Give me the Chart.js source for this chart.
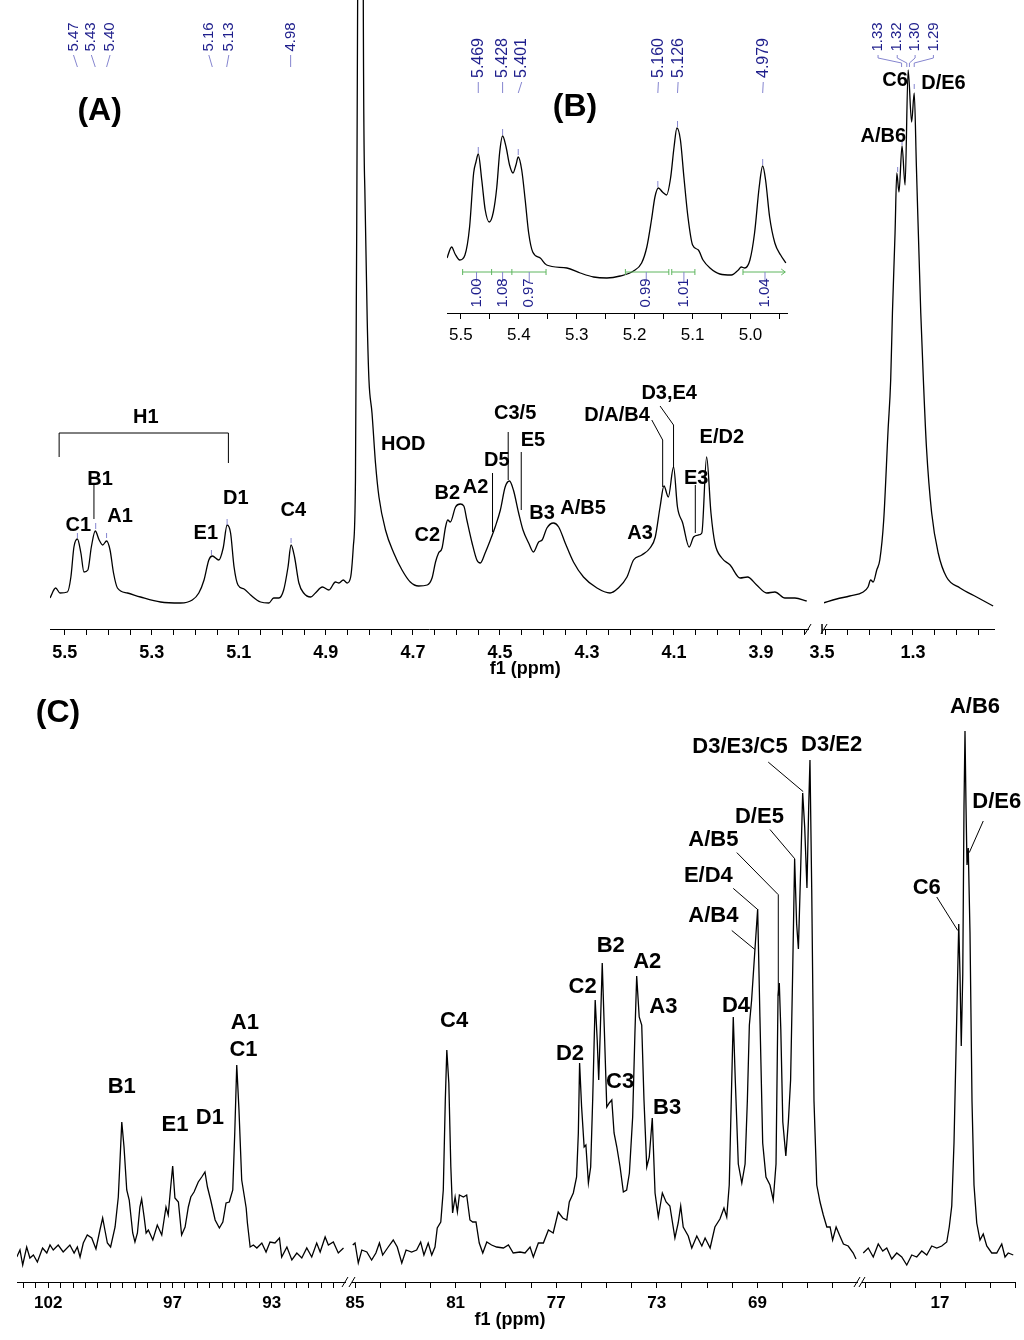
<!DOCTYPE html>
<html lang="en">
<head>
<meta charset="UTF-8">
<title>1H / 13C NMR spectra</title>
<script src="https://cdn.jsdelivr.net/npm/chart.js"></script>
<style>
  body { margin: 0; background: #fff; }
  #page { position: relative; width: 1024px; height: 1340px; overflow: hidden; background: #fff; }
  #page canvas { position: absolute; }
</style>
</head>
<body>
<div id="page"></div>
<script>
// ---- 1H spectrum, 5.53 - 3.79 ppm (panel A, left part)
const protonMainPpm = [5.534, 5.521, 5.511, 5.494, 5.486, 5.479, 5.471, 5.463, 5.456, 5.447,
  5.439, 5.430, 5.421, 5.413, 5.404, 5.396, 5.388, 5.379, 5.356, 5.326,
  5.280, 5.234, 5.207, 5.192, 5.180, 5.169, 5.161, 5.146, 5.136, 5.127,
  5.119, 5.111, 5.102, 5.088, 5.073, 5.050, 5.031, 5.020, 5.008, 4.997,
  4.987, 4.980, 4.972, 4.962, 4.951, 4.935, 4.924, 4.908, 4.893, 4.878,
  4.870, 4.860, 4.851, 4.843, 4.837, 4.832, 4.830, 4.827, 4.820, 4.814,
  4.810, 4.805, 4.801, 4.794, 4.786, 4.778, 4.763, 4.744, 4.725, 4.706,
  4.687, 4.667, 4.656, 4.648, 4.641, 4.633, 4.625, 4.620, 4.614, 4.602,
  4.591, 4.583, 4.576, 4.564, 4.553, 4.545, 4.534, 4.522, 4.511, 4.499,
  4.488, 4.478, 4.469, 4.457, 4.447, 4.434, 4.423, 4.411, 4.403, 4.392,
  4.377, 4.365, 4.350, 4.331, 4.308, 4.277, 4.247, 4.228, 4.208, 4.193,
  4.174, 4.155, 4.143, 4.132, 4.123, 4.113, 4.101, 4.092, 4.080, 4.065,
  4.055, 4.044, 4.036, 4.025, 4.015, 4.006, 3.990, 3.971, 3.948, 3.931,
  3.910, 3.887, 3.868, 3.845, 3.822, 3.795];
const protonMainInt = [31, 41, 36, 37, 52, 82, 90, 76, 57, 59,
  82, 98, 89, 84, 88, 79, 56, 41, 36, 32,
  27, 26, 29, 36, 49, 69, 73, 69, 81, 104,
  96, 62, 44, 40, 34, 27, 26, 31, 31, 39,
  62, 84, 72, 46, 36, 32, 36, 42, 39, 47,
  46, 49, 46, 52, 82, 149, 329, 629, 2500, 629,
  429, 309, 249, 216, 166, 132, 99, 76, 59, 47,
  43, 44, 51, 67, 76, 81, 102, 109, 107, 122,
  125, 123, 109, 86, 69, 66, 76, 89, 102, 119,
  142, 148, 139, 116, 99, 86, 77, 87, 89, 101,
  106, 102, 86, 67, 52, 41, 36, 41, 52, 69,
  74, 81, 92, 122, 143, 132, 162, 122, 106, 82,
  92, 94, 96, 172, 116, 86, 71, 64, 51, 52,
  44, 36, 37, 31, 31, 28];

// ---- 1H, the small piece kept around 3.5 ppm
const protonGapPpm = [3.507, 3.501];
const protonGapInt = [21, 21];

// ---- 1H methyl region (panel A, right part)
const protonMethylPpm = [1.506, 1.475, 1.445, 1.414, 1.403, 1.397, 1.391, 1.383, 1.376, 1.367,
  1.357, 1.351, 1.347, 1.341, 1.337, 1.332, 1.325, 1.318, 1.311, 1.303,
  1.297, 1.292, 1.282, 1.276, 1.269, 1.257, 1.242, 1.223, 1.192, 1.154, 1.116];
const protonMethylInt = [26, 30, 33, 37, 42, 49, 47, 59, 69, 109,
  199, 249, 316, 396, 456, 437, 483, 444, 559, 507,
  536, 462, 316, 249, 182, 116, 76, 52, 41, 32, 23];

// ---- inset (B): anomeric protons
const insetPpm = [5.524, 5.516, 5.510, 5.502, 5.493, 5.485, 5.478, 5.474, 5.470, 5.464,
  5.458, 5.451, 5.444, 5.438, 5.433, 5.428, 5.422, 5.416, 5.410, 5.405,
  5.401, 5.395, 5.389, 5.383, 5.376, 5.363, 5.352, 5.317, 5.294, 5.271,
  5.248, 5.225, 5.202, 5.188, 5.179, 5.171, 5.165, 5.159, 5.152, 5.145,
  5.138, 5.132, 5.127, 5.121, 5.115, 5.108, 5.100, 5.090, 5.082, 5.070,
  5.053, 5.033, 5.021, 5.016, 5.010, 5.001, 4.993, 4.985, 4.979, 4.974,
  4.967, 4.958, 4.948, 4.939];
const insetInt = [55, 66, 59, 53, 58, 86, 140, 151, 159, 133,
  103, 91, 101, 126, 161, 177, 166, 148, 140, 148,
  156, 143, 113, 80, 61, 55, 48, 45, 40, 36,
  35, 37, 42, 50, 66, 93, 116, 125, 121, 118,
  135, 166, 185, 173, 136, 96, 68, 63, 53, 45,
  39, 38, 43, 46, 45, 53, 80, 126, 147, 133,
  96, 70, 58, 50];
const insetShifts = ['5.469', '5.428', '5.401', '5.160', '5.126', '4.979'];
const insetIntegrals = ['1.00', '1.08', '0.97', '0.99', '1.01', '1.04'];

// ---- 13C spectrum (panel C) in three pieces
const carbonAnomPpm = [103.27, 103.14, 103.03, 102.87, 102.74, 102.60, 102.44, 102.23, 102.06, 101.93,
  101.80, 101.60, 101.40, 101.13, 100.96, 100.83, 100.72, 100.59, 100.43, 100.25,
  100.08, 99.92, 99.81, 99.72, 99.62, 99.49, 99.31, 99.18, 99.11, 99.04,
  98.95, 98.84, 98.74, 98.60, 98.51, 98.41, 98.31, 98.24, 98.14, 98.06,
  97.97, 97.79, 97.61, 97.43, 97.26, 97.17, 97.07, 96.99, 96.90, 96.76,
  96.63, 96.49, 96.36, 96.26, 96.13, 95.96, 95.82, 95.69, 95.59, 95.46,
  95.28, 95.11, 94.97, 94.84, 94.71, 94.57, 94.49, 94.41, 94.32, 94.21,
  94.10, 94.03, 93.98, 93.87, 93.74, 93.60, 93.40, 93.23, 93.07, 92.87,
  92.69, 92.60, 92.39, 92.19, 91.99, 91.79, 91.59, 91.39, 91.19, 91.05,
  90.85, 90.72, 90.52, 90.32, 90.11];
const carbonAnomInt = [25, 32, 17, 35, 24, 27, 20, 34, 29, 37,
  32, 37, 30, 37, 29, 35, 25, 39, 47, 44,
  33, 52, 64, 52, 39, 35, 55, 85, 122, 160,
  135, 92, 82, 49, 40, 49, 75, 83, 65, 49,
  52, 42, 57, 47, 75, 67, 95, 116, 84, 80,
  47, 55, 75, 85, 90, 100, 105, 110, 95, 82,
  62, 54, 60, 79, 80, 92, 149, 217, 172, 102,
  85, 74, 59, 35, 37, 34, 39, 30, 40, 39,
  44, 25, 35, 22, 29, 24, 34, 25, 39, 30,
  45, 37, 40, 29, 34];
const carbonRingPpm = [85.09, 85.00, 84.87, 84.73, 84.53, 84.34, 84.17, 84.03, 83.90, 83.68,
  83.48, 83.32, 83.14, 82.97, 82.75, 82.55, 82.39, 82.26, 82.09, 81.95,
  81.82, 81.73, 81.59, 81.49, 81.41, 81.35, 81.27, 81.19, 81.12, 81.02,
  80.93, 80.85, 80.69, 80.56, 80.43, 80.32, 80.19, 80.06, 79.92, 79.76,
  79.57, 79.37, 79.10, 78.90, 78.71, 78.44, 78.24, 78.04, 77.91, 77.71,
  77.51, 77.31, 77.12, 76.92, 76.74, 76.58, 76.48, 76.32, 76.19, 76.12,
  76.07, 75.99, 75.89, 75.82, 75.72, 75.63, 75.55, 75.45, 75.37, 75.31,
  75.25, 75.17, 75.09, 74.99, 74.89, 74.79, 74.70, 74.59, 74.46, 74.33,
  74.20, 74.09, 73.96, 73.87, 73.80, 73.70, 73.60, 73.51, 73.40, 73.30,
  73.18, 73.07, 72.94, 72.78, 72.63, 72.48, 72.28, 72.15, 72.05, 71.95,
  71.75, 71.61, 71.41, 71.21, 71.08, 70.88, 70.69, 70.49, 70.33, 70.22,
  70.12, 70.04, 69.96, 69.88, 69.76, 69.62, 69.49, 69.40, 69.32, 69.23,
  69.11, 68.99, 68.90, 68.79, 68.66, 68.50, 68.37, 68.26, 68.18, 68.13,
  68.07, 67.99, 67.87, 67.77, 67.68, 67.60, 67.52, 67.44, 67.37, 67.28,
  67.20, 67.12, 67.03, 66.96, 66.91, 66.84, 66.75, 66.64, 66.51, 66.38,
  66.24, 66.11, 66.01, 65.87, 65.72, 65.58, 65.39, 65.19, 65.08];
const carbonRingInt = [37, 39, 19, 32, 30, 22, 29, 39, 27, 35,
  42, 35, 19, 32, 30, 32, 40, 27, 39, 27,
  35, 54, 60, 92, 182, 232, 199, 115, 69, 85,
  70, 87, 85, 87, 62, 60, 60, 39, 29, 40,
  37, 35, 34, 37, 29, 30, 29, 35, 25, 39,
  39, 52, 49, 70, 64, 62, 80, 89, 105, 149,
  219, 175, 135, 137, 99, 115, 182, 282, 242, 202,
  249, 319, 255, 175, 179, 182, 149, 135, 115, 90,
  92, 109, 165, 249, 306, 265, 257, 182, 115, 125,
  164, 89, 65, 89, 80, 76, 44, 59, 76, 55,
  46, 34, 46, 36, 44, 34, 55, 63, 74, 65,
  97, 181, 265, 202, 118, 99, 118, 181, 257, 282,
  328, 373, 265, 139, 105, 97, 82, 118, 286, 299,
  253, 160, 126, 160, 202, 307, 423, 358, 333, 413,
  489, 455, 394, 476, 522, 392, 181, 97, 80, 67,
  55, 55, 42, 55, 46, 38, 36, 29, 23];
const carbonMethylPpm = [20.07, 19.87, 19.67, 19.47, 19.29, 19.13, 18.93, 18.73, 18.53, 18.33,
  18.13, 17.93, 17.73, 17.53, 17.33, 17.13, 16.93, 16.73, 16.63, 16.53,
  16.44, 16.33, 16.25, 16.20, 16.15, 16.09, 16.04, 16.00, 15.96, 15.92,
  15.87, 15.80, 15.72, 15.64, 15.53, 15.40, 15.27, 15.13, 14.93, 14.73,
  14.53, 14.40, 14.27, 14.07];
const carbonMethylInt = [29, 34, 25, 38, 31, 34, 23, 29, 25, 17,
  27, 25, 31, 27, 36, 34, 36, 40, 55, 76,
  139, 265, 358, 307, 236, 307, 476, 551, 476, 417,
  434, 349, 181, 97, 59, 42, 48, 36, 29, 29,
  38, 25, 29, 27];

// tick labels shown on each axis piece
const protonTickLabels = [5.5, 5.3, 5.1, 4.9, 4.7, 4.5, 4.3, 4.1, 3.9];
const protonGapLabels = [3.5];
const protonMethylLabels = [1.3];
const insetTickLabels = [5.5, 5.4, 5.3, 5.2, 5.1, 5.0];
const carbonAnomLabels = [102, 97, 93];
const carbonRingLabels = [85, 81, 77, 73, 69, 65];
const carbonMethylLabels = [17];

const FONT = '"Liberation Sans", Arial, sans-serif';
const STYLES = {
  panel: { font: 'bold 32px ' + FONT, color: '#000' },
  lab:   { font: 'bold 20px ' + FONT, color: '#000' },
  labC:  { font: 'bold 22px ' + FONT, color: '#000' },
  title: { font: 'bold 18px ' + FONT, color: '#000' },
  peak:  { font: '15px ' + FONT, color: '#1e1e8c', rot: true },
  peakB: { font: '16px ' + FONT, color: '#1e1e8c', rot: true }
};
const BLUE = '#8585cf', GREEN = '#5fb65f';

// labels, leader lines, break marks (in ppm / intensity units)
const notesA1 = {
  texts: [
    { x: 5.420, y: 518, t: '(A)', s: 'panel' },
    { x: 5.314, y: 212, t: 'H1' },
    { x: 5.419, y: 150, t: 'B1' }, { x: 5.469, y: 104, t: 'C1' }, { x: 5.373, y: 113, t: 'A1' },
    { x: 5.176, y: 96, t: 'E1' }, { x: 5.107, y: 131, t: 'D1' }, { x: 4.975, y: 119, t: 'C4' },
    { x: 4.722, y: 185, t: 'HOD' }, { x: 4.667, y: 94, t: 'C2' }, { x: 4.621, y: 136, t: 'B2' },
    { x: 4.556, y: 142, t: 'A2' }, { x: 4.507, y: 169, t: 'D5' }, { x: 4.465, y: 216, t: 'C3/5' },
    { x: 4.424, y: 189, t: 'E5' }, { x: 4.403, y: 116, t: 'B3' }, { x: 4.309, y: 121, t: 'A/B5' },
    { x: 4.178, y: 96, t: 'A3' }, { x: 4.231, y: 214, t: 'D/A/B4' }, { x: 4.111, y: 236, t: 'D3,E4' },
    { x: 3.990, y: 192, t: 'E/D2' }, { x: 4.049, y: 151, t: 'E3' },
    { x: 4.442, y: -40, t: 'f1 (ppm)', s: 'title' },
    { x: 5.480, y: 592, t: '5.47', s: 'peak' }, { x: 5.439, y: 592, t: '5.43', s: 'peak' },
    { x: 5.396, y: 592, t: '5.40', s: 'peak' }, { x: 5.169, y: 592, t: '5.16', s: 'peak' },
    { x: 5.123, y: 592, t: '5.13', s: 'peak' }, { x: 4.981, y: 592, t: '4.98', s: 'peak' }
  ],
  lines: [
    { p: [[5.513, 172], [5.513, 196], [5.124, 196], [5.124, 166]] },
    { p: [[5.433, 144], [5.433, 110]] },
    { p: [[4.517, 156], [4.517, 97]] },
    { p: [[4.481, 197], [4.481, 149]] },
    { p: [[4.451, 177], [4.451, 119]] },
    { p: [[4.151, 209], [4.126, 189], [4.126, 142]] },
    { p: [[4.132, 223], [4.101, 204], [4.101, 162]] },
    { p: [[4.051, 144], [4.051, 96]] },
    { p: [[5.480, 574], [5.471, 562]], c: BLUE }, { p: [[5.439, 574], [5.430, 562]], c: BLUE },
    { p: [[5.396, 574], [5.404, 562]], c: BLUE }, { p: [[5.169, 574], [5.161, 562]], c: BLUE },
    { p: [[5.123, 574], [5.128, 562]], c: BLUE }, { p: [[4.981, 574], [4.981, 562]], c: BLUE },
    { p: [[5.471, 96], [5.471, 91]], c: BLUE }, { p: [[5.429, 106], [5.429, 100]], c: BLUE },
    { p: [[5.404, 96], [5.404, 91]], c: BLUE }, { p: [[5.163, 79], [5.163, 74]], c: BLUE },
    { p: [[5.127, 110], [5.127, 104]], c: BLUE }, { p: [[4.980, 91], [4.980, 86]], c: BLUE },
    { p: [[3.799, -5], [3.785, 5]] }
  ]
};
const notesGap = {
  texts: [],
  lines: [{ p: [[3.512, -5], [3.500, 5]] }, { p: [[3.504, -5], [3.492, 5]] }]
};
const notesA2 = {
  texts: [
    { x: 1.368, y: 493, t: 'A/B6' }, { x: 1.341, y: 549, t: 'C6' }, { x: 1.230, y: 546, t: 'D/E6' },
    { x: 1.380, y: 592, t: '1.33', s: 'peak' }, { x: 1.336, y: 592, t: '1.32', s: 'peak' },
    { x: 1.295, y: 592, t: '1.30', s: 'peak' }, { x: 1.253, y: 592, t: '1.29', s: 'peak' }
  ],
  lines: [
    { p: [[1.380, 574], [1.380, 571], [1.326, 566], [1.326, 562]], c: BLUE },
    { p: [[1.336, 574], [1.336, 571], [1.314, 566], [1.314, 562]], c: BLUE },
    { p: [[1.295, 574], [1.295, 571], [1.308, 566], [1.308, 562]], c: BLUE },
    { p: [[1.253, 574], [1.253, 571], [1.297, 566], [1.297, 562]], c: BLUE },
    { p: [[1.335, 462], [1.335, 457]], c: BLUE }, { p: [[1.325, 489], [1.325, 484]], c: BLUE },
    { p: [[1.297, 545], [1.297, 540]], c: BLUE },
    { p: [[1.511, -5], [1.497, 5]] }
  ]
};
const insetAt = [5.470, 5.428, 5.395, 5.159, 5.125, 4.978];
const insetPeakAt = [5.470, 5.428, 5.401, 5.160, 5.126, 4.979];
const insetPeakTop = [160, 178, 158, 126, 186, 148];
const integralAt = [5.473, 5.428, 5.382, 5.180, 5.115, 4.975];
const notesB = {
  texts: [{ x: 5.303, y: 206, t: '(B)', s: 'panel' }]
    .concat(insetShifts.map((t, i) => ({ x: insetAt[i], y: 255, t, s: 'peakB' })))
    .concat(insetIntegrals.map((t, i) => ({ x: integralAt[i], y: 20, t, s: 'peak' }))),
  lines: insetAt.map((v, i) => ({ p: [[v, 231], [insetPeakAt[i], 220]], c: BLUE }))
    .concat(insetPeakAt.map((v, i) => ({ p: [[v, insetPeakTop[i] + 6], [v, insetPeakTop[i]]], c: BLUE })))
    .concat([[5.497, 5.353], [5.216, 5.141], [5.136, 5.096], [5.013, 4.940]].map(r => ({ p: [[r[0], 41], [r[1], 41]], c: GREEN })))
    .concat([5.497, 5.447, 5.412, 5.353, 5.216, 5.141, 5.136, 5.096, 5.013].map(v => ({ p: [[v, 44], [v, 38]], c: GREEN })))
    .concat([{ p: [[4.947, 44], [4.940, 41], [4.947, 38]], c: GREEN }])
    .concat(integralAt.map(v => ({ p: [[v, 41], [v, 31]], c: BLUE })))
};
const notesC1 = {
  texts: [
    { x: 101.61, y: 569, t: '(C)', s: 'panel' },
    { x: 99.04, y: 195, t: 'B1', s: 'labC' }, { x: 96.90, y: 157, t: 'E1', s: 'labC' },
    { x: 95.49, y: 164, t: 'D1', s: 'labC' }, { x: 94.08, y: 259, t: 'A1', s: 'labC' },
    { x: 94.14, y: 232, t: 'C1', s: 'labC' }
  ],
  lines: [{ p: [[90.17, -5], [89.93, 5]] }]
};
const notesC2 = {
  texts: [
    { x: 81.06, y: 261, t: 'C4' }, { x: 76.45, y: 228, t: 'D2' }, { x: 75.95, y: 295, t: 'C2' },
    { x: 74.83, y: 336, t: 'B2' }, { x: 73.38, y: 320, t: 'A2' }, { x: 72.74, y: 275, t: 'A3' },
    { x: 74.46, y: 200, t: 'C3' }, { x: 72.59, y: 174, t: 'B3' }, { x: 69.85, y: 276, t: 'D4' },
    { x: 70.75, y: 366, t: 'A/B4' }, { x: 70.95, y: 406, t: 'E/D4' }, { x: 70.75, y: 442, t: 'A/B5' },
    { x: 68.92, y: 465, t: 'D/E5' }, { x: 69.69, y: 535, t: 'D3/E3/C5' }, { x: 66.05, y: 537, t: 'D3/E2' }
  ].map(t => Object.assign(t, { s: 'labC' })).concat([{ x: 78.84, y: -38, t: 'f1 (ppm)', s: 'title' }]),
  lines: [
    { p: [[70.02, 351.5], [69.10, 332.5]] },
    { p: [[69.96, 393.6], [68.99, 372.5]] },
    { p: [[69.82, 429.4], [68.17, 387.3], [68.17, 286.2]] },
    { p: [[68.50, 452.5], [67.51, 423.1]] },
    { p: [[68.57, 519.9], [67.18, 490.4]] },
    { p: [[85.24, -5], [85.00, 5]] },
    { p: [[65.16, -5], [64.92, 5]] }
  ]
};
const notesC3 = {
  texts: [
    { x: 15.60, y: 575, t: 'A/B6', s: 'labC' }, { x: 14.73, y: 480, t: 'D/E6', s: 'labC' },
    { x: 17.53, y: 394, t: 'C6', s: 'labC' }
  ],
  lines: [
    { p: [[15.27, 461], [15.83, 429.4]] },
    { p: [[17.13, 385], [16.29, 351.5]] },
    { p: [[20.24, -5], [20.00, 5]] }
  ]
};

function notesPlugin(set) {
  return {
    id: 'notes',
    afterDatasetsDraw(chart) {
      const ctx = chart.ctx;
      const px = v => chart.scales.x.getPixelForValue(v);
      const py = v => chart.scales.y.getPixelForValue(v);
      ctx.save();
      ctx.lineWidth = 1;
      set.lines.forEach(l => {
        ctx.beginPath();
        ctx.strokeStyle = l.c || '#000';
        l.p.forEach((pt, i) => {
          if (i) ctx.lineTo(px(pt[0]), py(pt[1]));
          else ctx.moveTo(px(pt[0]), py(pt[1]));
        });
        ctx.stroke();
      });
      set.texts.forEach(t => {
        const st = STYLES[t.s || 'lab'];
        ctx.save();
        ctx.font = st.font;
        ctx.fillStyle = st.color;
        ctx.textAlign = 'center';
        ctx.textBaseline = 'middle';
        ctx.translate(px(t.x), py(t.y));
        if (st.rot) ctx.rotate(-Math.PI / 2);
        ctx.fillText(t.t, 0, 0);
        ctx.restore();
      });
      ctx.restore();
    }
  };
}

function makeSpectrum(o) {
  const padL = o.padL ?? 30, padR = o.padR ?? 30, axisH = o.axisH ?? 55;
  const w = o.right - o.left + padL + padR, h = o.bottom - o.top + axisH;
  const canvas = document.createElement('canvas');
  canvas.width = w; canvas.height = h;
  canvas.style.left = (o.left - padL) + 'px';
  canvas.style.top = o.top + 'px';
  canvas.style.width = w + 'px';
  canvas.style.height = h + 'px';
  document.getElementById('page').appendChild(canvas);

  new Chart(canvas, {
    type: 'scatter',
    data: {
      datasets: [{
        data: o.ppm.map((v, i) => ({ x: v, y: o.intensity[i] })),
        showLine: true,
        borderColor: '#000',
        borderWidth: 1.3,
        pointRadius: 0,
        tension: 0,
        cubicInterpolationMode: o.smooth ? 'monotone' : 'default'
      }]
    },
    options: {
      responsive: false,
      animation: false,
      events: [],
      layout: { padding: { left: padL, right: padR, top: 0, bottom: 0 } },
      plugins: { legend: { display: false }, tooltip: { enabled: false } },
      scales: {
        x: {
          type: 'linear',
          reverse: true,
          min: o.xmin,
          max: o.xmax,
          afterBuildTicks: s => {
            const t = [];
            for (let k = Math.ceil(o.xmin / o.step - 1e-6); k * o.step <= o.xmax + 1e-9; k++) {
              t.push({ value: +(k * o.step).toFixed(4) });
            }
            s.ticks = t;
          },
          afterFit: s => { s.height = axisH; },
          ticks: {
            autoSkip: false,
            maxRotation: 0,
            padding: o.tickPad,
            color: '#000',
            font: o.tickFont,
            callback: v => o.labels.some(l => Math.abs(l - v) < 1e-6) ? o.fmt(v) : ''
          },
          grid: {
            drawOnChartArea: false,
            drawTicks: o.tickLen !== 0,
            tickLength: o.tickLen ?? 6,
            color: '#000',
            lineWidth: 1
          },
          border: { display: true, color: '#000', width: 1 }
        },
        y: { display: false, min: 0, max: o.ymax }
      }
    },
    plugins: [notesPlugin(o.notes)]
  });
}

const boldA = { family: FONT, size: 18, weight: 'bold' };
const boldC = { family: FONT, size: 17, weight: 'bold' };
const plainB = { family: FONT, size: 17 };
const one = v => v.toFixed(1);
const whole = v => String(Math.round(v));

// panel A
makeSpectrum({ left: 50, right: 808, top: 0, bottom: 629, xmin: 3.792, xmax: 5.534, ymax: 629,
  ppm: protonMainPpm, intensity: protonMainInt, smooth: true, step: 0.05, labels: protonTickLabels,
  fmt: one, tickFont: boldA, tickPad: 7, notes: notesA1 });
makeSpectrum({ left: 811, right: 821, top: 0, bottom: 629, xmin: 3.49, xmax: 3.51, ymax: 629,
  ppm: protonGapPpm, intensity: protonGapInt, step: 0.1, labels: protonGapLabels,
  fmt: one, tickFont: boldA, tickPad: 13, tickLen: 0, notes: notesGap });
makeSpectrum({ left: 824, right: 994, top: 0, bottom: 629, xmin: 1.114, xmax: 1.504, ymax: 629,
  ppm: protonMethylPpm, intensity: protonMethylInt, smooth: true, step: 0.05, labels: protonMethylLabels,
  fmt: one, tickFont: boldA, tickPad: 7, notes: notesA2 });
// inset B
makeSpectrum({ left: 447, right: 787, top: 20, bottom: 313, xmin: 4.937, xmax: 5.524, ymax: 293,
  ppm: insetPpm, intensity: insetInt, smooth: true, step: 0.05, labels: insetTickLabels,
  fmt: one, tickFont: plainB, tickPad: 6, axisH: 40, notes: notesB });
// panel C
makeSpectrum({ left: 17, right: 345, top: 680, bottom: 1282, xmin: 90.05, xmax: 103.26, ymax: 602,
  ppm: carbonAnomPpm, intensity: carbonAnomInt, step: 0.5, labels: carbonAnomLabels,
  fmt: whole, tickFont: boldC, tickPad: 5, padL: 15, notes: notesC1 });
makeSpectrum({ left: 352, right: 857, top: 680, bottom: 1282, xmin: 65.04, xmax: 85.12, ymax: 602,
  ppm: carbonRingPpm, intensity: carbonRingInt, step: 1, labels: carbonRingLabels,
  fmt: whole, tickFont: boldC, tickPad: 5, notes: notesC2 });
makeSpectrum({ left: 862, right: 1015, top: 680, bottom: 1282, xmin: 14.0, xmax: 20.12, ymax: 602,
  ppm: carbonMethylPpm, intensity: carbonMethylInt, step: 1, labels: carbonMethylLabels,
  fmt: whole, tickFont: boldC, tickPad: 5, padR: 9, notes: notesC3 });
</script>
</body>
</html>
